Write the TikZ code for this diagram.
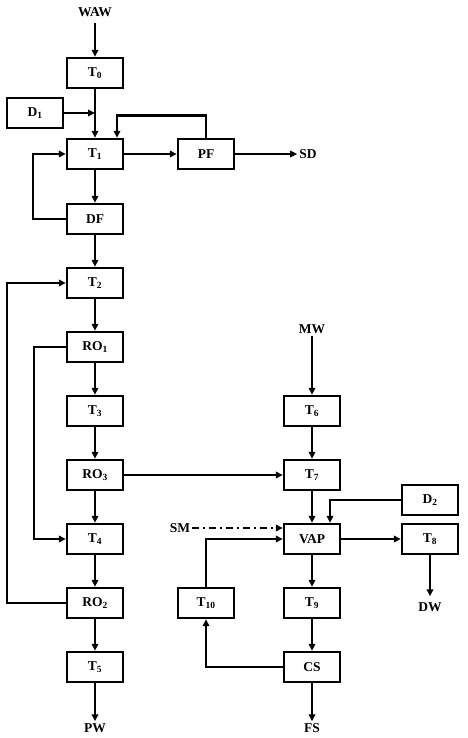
\documentclass[tikz,border=0pt]{standalone}
\usepackage{fontspec}
\setmainfont{Liberation Serif}
\usetikzlibrary{arrows.meta}
\begin{document}
\begin{tikzpicture}[x=1pt,y=-1pt,>={Triangle[length=7pt,width=6.5pt]},
    unit/.style={draw, line width=2.4pt, minimum width=56pt, minimum height=30pt, inner sep=0pt, font=\fontsize{13.5}{15}\selectfont\bfseries},
    stream/.style={font=\fontsize{13.5}{15}\selectfont\bfseries, inner sep=2pt},
    flow/.style={->, line width=1.7pt},
    mainflow/.style={->, line width=2.7pt}]
\useasboundingbox (0,0) rectangle (467,738);
% Left column
\node[stream] (WAW) at (95,12) {WAW};
\node[unit] (T0) at (95,73) {T\textsubscript{0}};
\node[unit] (D1) at (35,113) {D\textsubscript{1}};
\node[unit] (T1) at (95,154) {T\textsubscript{1}};
\node[unit] (PF) at (206,154) {PF};
\node[stream] (SD) at (308,154) {SD};
\node[unit] (DF) at (95,219) {DF};
\node[unit] (T2) at (95,283) {T\textsubscript{2}};
\node[unit] (RO1) at (95,347) {RO\textsubscript{1}};
\node[unit] (T3) at (95,411) {T\textsubscript{3}};
\node[unit] (RO3) at (95,475) {RO\textsubscript{3}};
\node[unit] (T4) at (95,539) {T\textsubscript{4}};
\node[unit] (RO2) at (95,603) {RO\textsubscript{2}};
\node[unit] (T5) at (95,667) {T\textsubscript{5}};
\node[stream] (PW) at (95,728) {PW};
% Right column
\node[stream] (MW) at (312,329) {MW};
\node[unit] (T6) at (312,411) {T\textsubscript{6}};
\node[unit] (T7) at (312,475) {T\textsubscript{7}};
\node[unit] (D2) at (430,500) {D\textsubscript{2}};
\node[unit] (VAP) at (312,539) {VAP};
\node[unit] (T8) at (430,539) {T\textsubscript{8}};
\node[stream] (SM) at (180,528) {SM};
\node[unit] (T10) at (206,603) {T\textsubscript{10}};
\node[unit] (T9) at (312,603) {T\textsubscript{9}};
\node[stream] (DW) at (430,607) {DW};
\node[unit] (CS) at (312,667) {CS};
\node[stream] (FS) at (312,728) {FS};
% Left-hand connectors
\draw[flow, shorten <=4pt] (WAW) -- (T0);
\draw[flow] (T0) -- (T1);
\draw[mainflow] (D1) -- (D1 -| T0);
\draw[mainflow] (PF.north) -- ++(0,-22) -| ([xshift=22pt]T1.north);
\draw[mainflow] (T1) -- (PF);
\draw[flow] (PF) -- (SD);
\draw[mainflow] (T1) -- (DF);
\draw[flow] (DF.west) -- ++(-33,0) |- (T1.west);
\draw[mainflow] (DF) -- (T2);
\draw[mainflow] (T2) -- (RO1);
\draw[flow] (RO1) -- (T3);
\draw[flow] (T3) -- (RO3);
\draw[mainflow] (RO3) -- (T4);
\draw[mainflow] (T4) -- (RO2);
\draw[mainflow] (RO2) -- (T5);
\draw[flow] (T5) -- (PW);
\draw[flow] (RO1.west) -- ++(-32,0) |- (T4.west);
\draw[flow] (RO2.west) -- ++(-59,0) |- (T2.west);
% Right-hand connectors
\draw[flow] (RO3) -- (T7);
\draw[mainflow] (MW) -- (T6);
\draw[flow] (T6) -- (T7);
\draw[flow] (T7) -- (VAP);
\draw[flow] (D2.west) -| ([xshift=18pt]VAP.north);
\draw[flow, dash pattern=on 7pt off 4pt on 2pt off 4pt] (SM) -- (SM -| VAP.west);
\draw[flow] (T10.north) |- (VAP.west);
\draw[mainflow] (VAP) -- (T8);
\draw[mainflow, shorten >=4pt] (T8) -- (DW);
\draw[flow] (VAP) -- (T9);
\draw[mainflow] (T9) -- (CS);
\draw[mainflow] (CS.west) -| (T10.south);
\draw[mainflow] (CS) -- (FS);
\end{tikzpicture}
\end{document}
